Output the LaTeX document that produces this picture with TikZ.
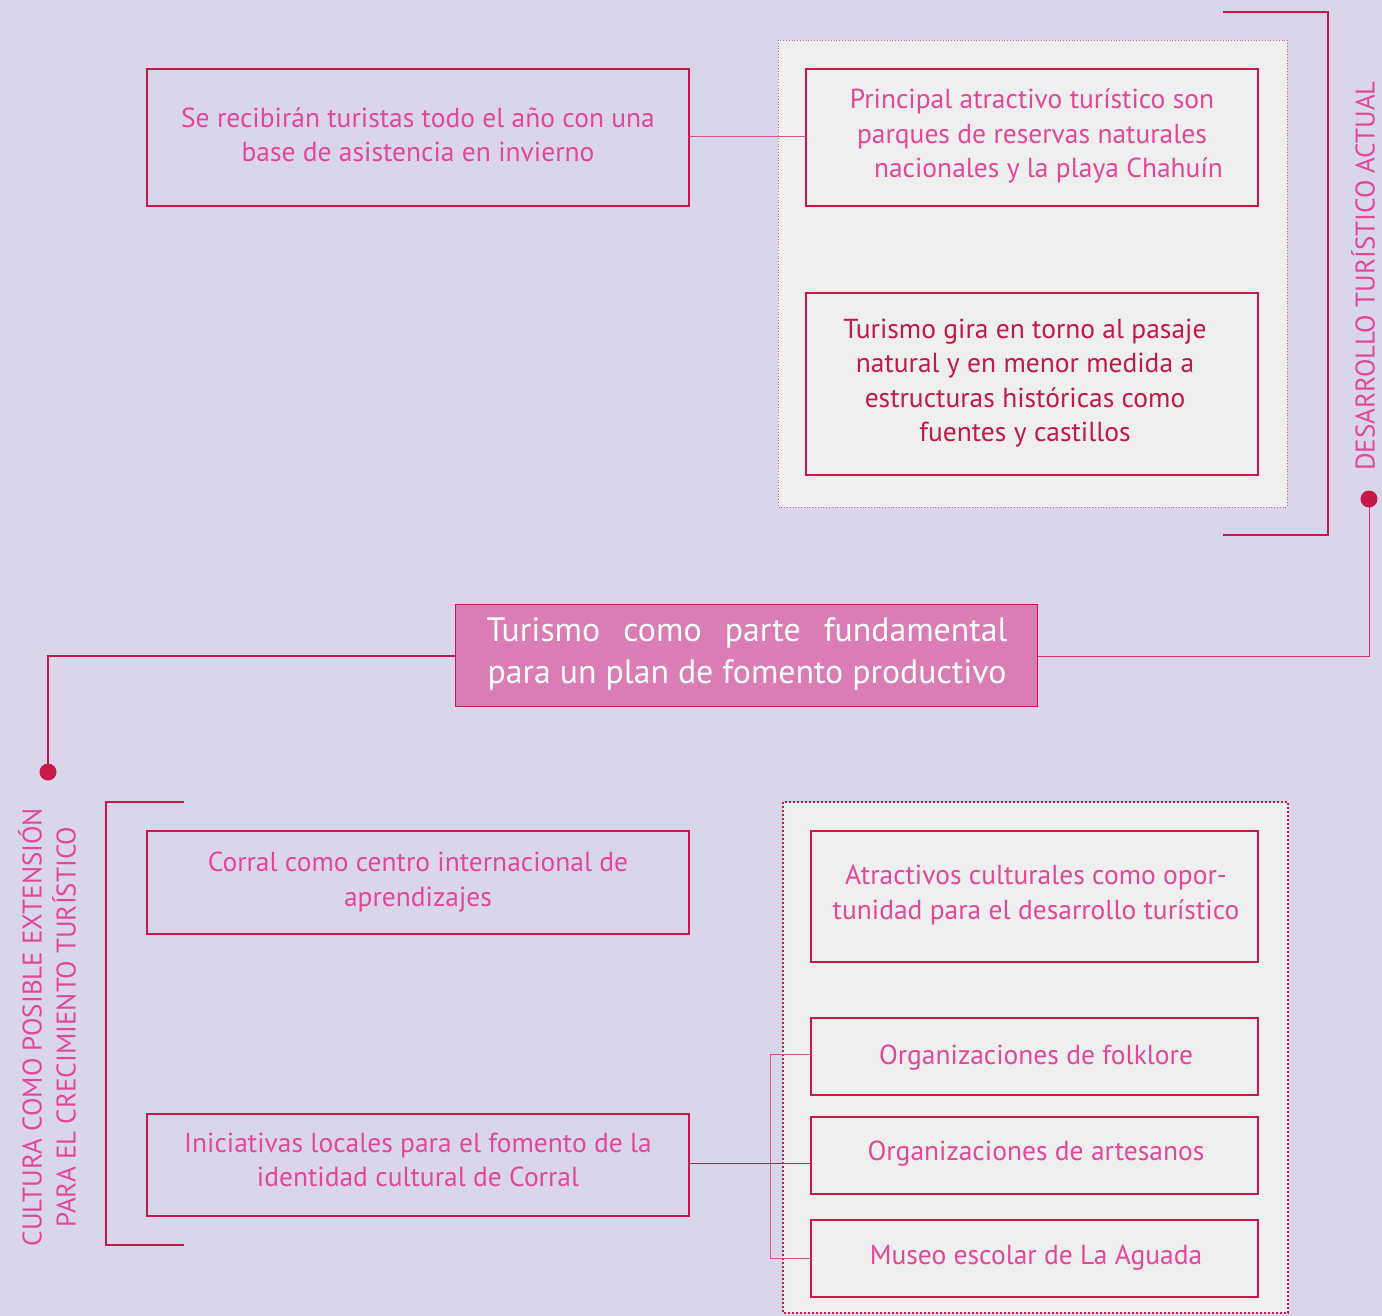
\documentclass[tikz,border=0pt]{standalone}
\usepackage{fontspec}
\setmainfont{PT Sans}
\definecolor{bg}{HTML}{D9D6EA}
\definecolor{panel}{HTML}{EEEFEE}
\definecolor{crim}{HTML}{C8174A}
\definecolor{pinktxt}{HTML}{E2479A}
\definecolor{darktxt}{HTML}{C2184B}
\definecolor{central}{HTML}{D97DB4}
\definecolor{thinln}{HTML}{D0577F}
\begin{document}
\begin{tikzpicture}[x=1pt,y=-1pt,
  box/.style={draw=crim,line width=1.1pt,inner sep=0pt},
  txt/.style={align=center,text=pinktxt,font=\fontsize{27.5}{34.5}\selectfont},
  link/.style={draw=thinln,line width=1pt},
  brk/.style={draw=crim,line width=1.4pt}]
\fill[bg] (0,0) rectangle (1382,1316);
\useasboundingbox (0,0) rectangle (1382,1316);
% panels
\draw[fill=panel,draw=crim!70,line width=0.8pt,dotted] (778,40) rectangle (1287,507);
\draw[fill=panel,draw=crim,line width=2pt,dotted] (783,802) rectangle (1288,1313);
% boxes
\draw[box] (147,69) rectangle (689,206);
\node[txt] (at) at (418,135) {Se recibirán turistas todo el año con una\\base de asistencia en invierno};
\draw[box] (806,69) rectangle (1258,206);
\node[txt] (bt) at (1032,136) {Principal atractivo turístico son\\parques de reservas naturales\\\hspace*{1.2em}nacionales y la playa Chahuín};
\draw[box] (806,293) rectangle (1258,475);
\node[txt,text=darktxt] (ct) at (1025,383) {Turismo gira en torno al pasaje\\natural y en menor medida a\\estructuras históricas como\\fuentes y castillos};
\coordinate (aR) at (689,137); \coordinate (bL) at (806,137);
\draw[link] (aR) -- (bL);
% central
\node[box,fill=central,minimum width=582pt,minimum height=102pt,anchor=north west] (cen) at (455,604) {};
\node[align=center,text=white,font=\fontsize{33.8}{42}\selectfont] (cent) at (747,654) {\hbox to 521pt{Turismo\hfil como\hfil parte\hfil fundamental}\\para un plan de fomento productivo};
% top bracket & title
\coordinate (tb1) at (1223,12); \coordinate (tb2) at (1328,12);
\coordinate (tb3) at (1328,535); \coordinate (tb4) at (1223,535);
\draw[brk] (tb1) -- (tb2) -- (tb3) -- (tb4);
\node[rotate=90,text=pinktxt,font=\fontsize{27}{30}\selectfont,anchor=center,inner sep=0pt] (t1) at (1363,276) {DESARROLLO TURÍSTICO ACTUAL};
\coordinate (d1) at (1369,499);
\draw[link,draw=crim!85] (d1) -- (1369,656) -- (cen.east |- 0,656);
\fill[crim] (d1) circle (8.5);
% left connector & title
\coordinate (d2) at (48,772);
\draw[brk,line width=1.2pt] (cen.west |- 0,656) -- (48,656) -- (d2);
\fill[crim] (d2) circle (8.5);
\node[rotate=90,text=pinktxt,font=\fontsize{27}{34}\selectfont,align=center] (t2) at (47,1027) {CULTURA COMO POSIBLE EXTENSIÓN\\PARA EL CRECIMIENTO TURÍSTICO};
\draw[brk] (184,802) -- (106,802) -- (106,1245) -- (184,1245);
% bottom left boxes
\draw[box] (147,831) rectangle (689,934);
\node[txt] (dt) at (418,882) {Corral como centro internacional de\\aprendizajes};
\draw[box] (147,1114) rectangle (689,1216);
\node[txt] (et) at (418,1160) {Iniciativas locales para el fomento de la\\identidad cultural de Corral};
% bottom right boxes
\draw[box] (811,831) rectangle (1258,962);
\node[txt] (ft) at (1036,895) {Atractivos culturales como opor-\\tunidad para el desarrollo turístico};
\draw[box] (811,1018) rectangle (1258,1095);
\node[txt] (gt) at (1036,1058) {Organizaciones de folklore};
\draw[box] (811,1117) rectangle (1258,1194);
\node[txt] (ht) at (1036,1154) {Organizaciones de artesanos};
\draw[box] (811,1220) rectangle (1258,1297);
\node[txt] (it) at (1036,1258) {Museo escolar de La Aguada};
\coordinate (eR) at (689,1163); \coordinate (hL) at (811,1163);
\coordinate (gL) at (811,1054); \coordinate (iL) at (811,1258);
\draw[link,draw=crim] (eR) -- (hL);
\draw[link] (gL) -- (770,1054) -- (770,1258) -- (iL);
\end{tikzpicture}
\end{document}
